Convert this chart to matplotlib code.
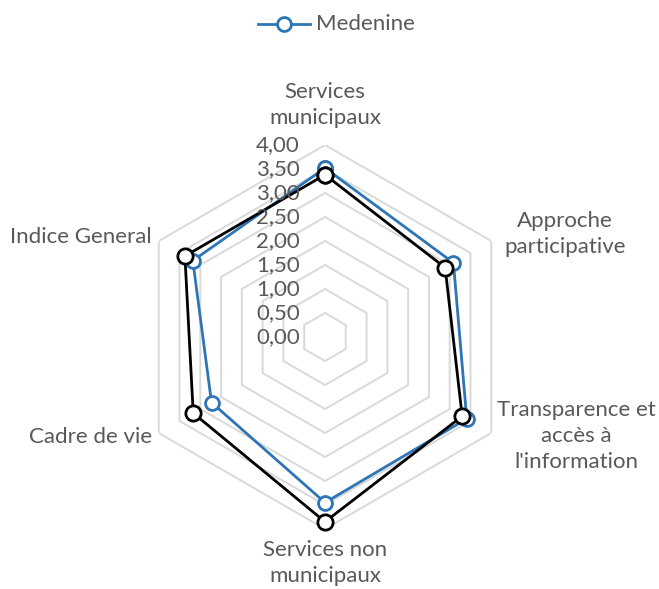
import numpy as np
import matplotlib.pyplot as plt

plt.rcParams['font.family'] = ['Lato', 'DejaVu Sans']

categories = ['Services\nmunicipaux', 'Approche\nparticipative',
              "Transparence et\naccès à\nl'information", 'Services non\nmunicipaux',
              'Cadre de vie', 'Indice General']
medenine = [3.52, 3.09, 3.41, 3.45, 2.73, 3.18]
other = [3.38, 2.89, 3.30, 3.85, 3.17, 3.37]
rings = [0.5, 1.0, 1.5, 2.0, 2.5, 3.0, 3.5, 4.0]
ring_labels = ['0,00', '0,50', '1,00', '1,50', '2,00', '2,50', '3,00', '3,50', '4,00']

W, H = 659, 589
fig = plt.figure(figsize=(W / 100, H / 100), dpi=100)
cx, cy, R = 325, 337, 192
ax = fig.add_axes([(cx - R) / W, (H - cy - R) / H, 2 * R / W, 2 * R / H], polar=True)
ax.set_theta_offset(np.pi / 2)
ax.set_theta_direction(-1)
ax.set_ylim(0, 4)
ax.grid(False)
ax.spines['polar'].set_visible(False)
ax.set_xticks([])
ax.set_yticks([])
ax.patch.set_alpha(0)

n = len(categories)
ang = np.linspace(0, 2 * np.pi, n, endpoint=False)
ang_c = np.append(ang, ang[0])

# hexagonal grid
for r in rings:
    ax.plot(ang_c, [r] * (n + 1), color='#d9d9d9', lw=1.4, zorder=1)

ax.plot(ang_c, medenine + medenine[:1], color='#2e75b6', lw=2, marker='o', ms=10,
        mfc='white', mec='#2e75b6', mew=2, zorder=3, clip_on=False)
ax.plot(ang_c, other + other[:1], color='black', lw=2, marker='o', ms=11,
        mfc='white', mec='black', mew=2, zorder=4, clip_on=False)

gray = '#595959'
fs = 16
# radial value labels
for i, lab in enumerate(ring_labels):
    y = cy - i * 0.5 * 48
    fig.text(300 / W, 1 - y / H, lab, ha='right', va='center', fontsize=fs, color=gray)

# category labels (pixel positions)
pos = [(325, 105, 'center'), (565, 234, 'center'), (576, 436, 'center'),
       (325, 563, 'center'), (152, 437, 'right'), (152, 237, 'right')]
for lab, (x, y, ha) in zip(categories, pos):
    fig.text(x / W, 1 - y / H, lab, ha=ha, va='center', fontsize=fs, color=gray,
             linespacing=1.35, multialignment='center')

# legend
fig.lines.append(plt.Line2D([258 / W, 310 / W], [1 - 24 / H] * 2, transform=fig.transFigure,
                            color='#2e75b6', lw=2))
fig.lines.append(plt.Line2D([284 / W], [1 - 24 / H], transform=fig.transFigure,
                            color='#2e75b6', marker='o', ms=10, mfc='white', mew=2))
fig.text(316 / W, 1 - 24 / H, 'Medenine', ha='left', va='center', fontsize=fs, color=gray)

fig.savefig('out.png', dpi=100, facecolor='white')
